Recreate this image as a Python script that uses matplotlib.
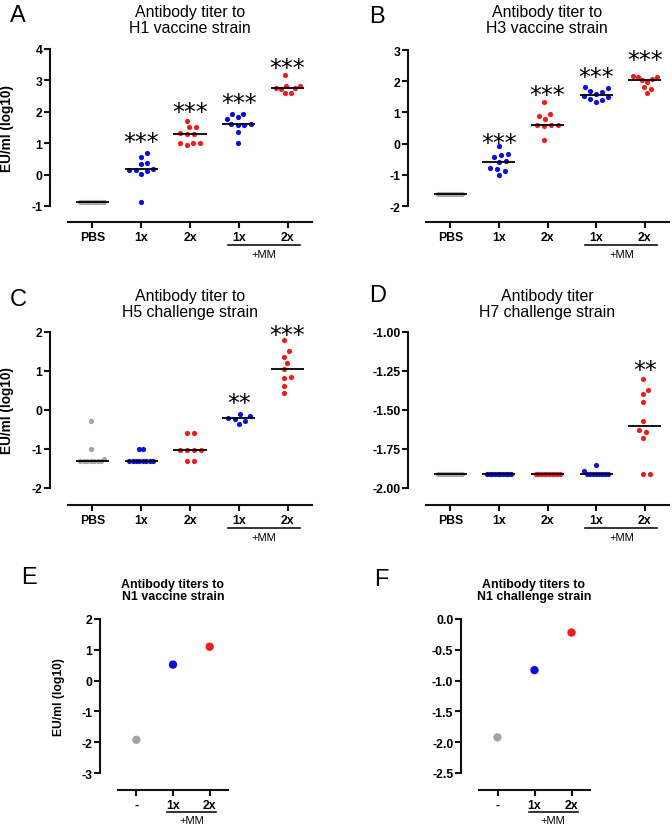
import numpy as np
import matplotlib
matplotlib.use("Agg")
import matplotlib.pyplot as plt
from matplotlib.lines import Line2D
from matplotlib.transforms import blended_transform_factory, offset_copy

plt.rcParams["font.family"] = ["Liberation Sans", "DejaVu Sans"]
plt.rcParams["axes.unicode_minus"] = False

W, H = 672, 828
GRAY = "#a3a3a3"
BLUE = "#0b0be0"
RED = "#ee1c1c"

# group labels / colours for the five-group panels
groups = ["PBS", "1x", "2x", "1x", "2x"]
group_colors = [GRAY, BLUE, RED, BLUE, RED]

# Panel A - H1 vaccine strain (EU/ml, log10)
h1_pbs = [-0.88, -0.88, -0.88, -0.88, -0.88, -0.88, -0.88, -0.88, -0.88, -0.88]
h1_1x = [0.57, 0.68, 0.38, 0.34, 0.10, 0.03, 0.14, 0.18, 0.16, -0.88]
h1_2x = [1.72, 1.50, 1.50, 1.31, 1.29, 1.29, 1.00, 0.94, 1.02, 1.00]
h1_1x_mm = [1.93, 1.93, 1.82, 1.77, 1.60, 1.59, 1.59, 1.61, 1.36, 1.02]
h1_2x_mm = [3.16, 2.82, 2.82, 2.75, 2.73, 2.75, 2.60, 2.60]
h1_stars = ["", "***", "***", "***", "***"]
h1_star_y = [None, 1.25, 2.22, 2.49, 3.61]
h1_yticks = [-1, 0, 1, 2, 3, 4]
h1_yticklabels = ["-1", "0", "1", "2", "3", "4"]

# Panel B - H3 vaccine strain
h3_pbs = [-1.60, -1.60, -1.60, -1.60, -1.60, -1.60, -1.60, -1.60, -1.60, -1.60]
h3_1x = [-0.09, -0.43, -0.35, -0.32, -0.56, -0.59, -0.81, -0.78, -0.88, -1.02]
h3_2x = [1.32, 0.96, 0.87, 0.79, 0.59, 0.59, 0.57, 0.61, 0.13]
h3_1x_mm = [1.81, 1.78, 1.69, 1.67, 1.59, 1.44, 1.35, 1.40, 1.51, 1.52]
h3_2x_mm = [2.17, 2.13, 2.13, 2.07, 1.99, 2.04, 1.81, 1.74, 1.62]
h3_stars = ["", "***", "***", "***", "***"]
h3_star_y = [None, 0.26, 1.78, 2.36, 2.89]
h3_yticks = [-2, -1, 0, 1, 2, 3]
h3_yticklabels = ["-2", "-1", "0", "1", "2", "3"]

# Panel C - H5 challenge strain
h5_pbs = [-0.29, -1.01, -1.25, -1.32, -1.32, -1.32, -1.32, -1.32, -1.32, -1.32]
h5_1x = [-1.01, -1.01, -1.32, -1.32, -1.32, -1.32, -1.32, -1.32, -1.32, -1.32]
h5_2x = [-0.60, -0.60, -1.03, -1.03, -1.03, -1.03, -1.32, -1.32]
h5_1x_mm = [-0.11, -0.15, -0.20, -0.22, -0.37, -0.28]
h5_2x_mm = [1.79, 1.50, 1.36, 1.20, 1.04, 0.85, 0.83, 0.62, 0.43]
h5_stars = ["", "", "", "**", "***"]
h5_star_y = [None, None, None, 0.36, 2.11]
h5_yticks = [-2, -1, 0, 1, 2]
h5_yticklabels = ["-2", "-1", "0", "1", "2"]

# Panel D - H7 challenge strain
h7_pbs = [-1.91, -1.91, -1.91, -1.91, -1.91, -1.91, -1.91, -1.91, -1.91, -1.91]
h7_1x = [-1.91, -1.91, -1.91, -1.91, -1.91, -1.91, -1.91, -1.91, -1.91, -1.91]
h7_2x = [-1.91, -1.91, -1.91, -1.91, -1.91, -1.91, -1.91, -1.91, -1.91, -1.91]
h7_1x_mm = [-1.85, -1.89, -1.91, -1.91, -1.91, -1.91, -1.91, -1.91, -1.91, -1.91]
h7_2x_mm = [-1.30, -1.37, -1.40, -1.45, -1.57, -1.64, -1.63, -1.68, -1.91, -1.91]
h7_stars = ["", "", "", "", "**"]
h7_star_y = [None, None, None, None, -1.20]
h7_yticks = [-2.0, -1.75, -1.5, -1.25, -1.0]
h7_yticklabels = ["-2.00", "-1.75", "-1.50", "-1.25", "-1.00"]

# Panels E/F - N1 titers (pooled)
n1_groups = ["-", "1x", "2x"]
n1_colors = [GRAY, BLUE, RED]
n1_vaccine = [-1.92, 0.52, 1.10]
n1_vaccine_yticks = [-3, -2, -1, 0, 1, 2]
n1_vaccine_yticklabels = ["-3", "-2", "-1", "0", "1", "2"]
n1_challenge = [-1.92, -0.83, -0.22]
n1_challenge_yticks = [-2.5, -2.0, -1.5, -1.0, -0.5, 0.0]
n1_challenge_yticklabels = ["-2.5", "-2.0", "-1.5", "-1.0", "-0.5", "0.0"]

fig = plt.figure(figsize=(W / 100, H / 100), dpi=100)
fig.patch.set_facecolor("white")


def make_axes(left, right, top, bottom, ylim, ncat):
    ax = fig.add_axes([left / W, 1 - bottom / H, (right - left) / W, (bottom - top) / H])
    ax.set_xlim(-0.5, ncat - 0.5)
    ax.set_ylim(*ylim)
    for s in ["top", "right"]:
        ax.spines[s].set_visible(False)
    ax.spines["left"].set_position(("outward", 13))
    for s in ["left", "bottom"]:
        ax.spines[s].set_linewidth(1.5)
        ax.spines[s].set_color("#111111")
    ax.tick_params(axis="both", length=4, width=1.5, color="#111111",
                   labelsize=8.8, pad=1.5)
    ax.tick_params(axis="x", pad=2.5)
    ax.patch.set_alpha(0)
    return ax


def style_ticks(ax, labels, yticks, yticklabels):
    ax.set_xticks(range(len(labels)))
    ax.set_xticklabels(labels, fontweight="bold")
    ax.set_yticks(yticks)
    ax.set_yticklabels(yticklabels, fontweight="bold")
    ax.spines["left"].set_bounds(min(yticks), max(yticks))


def swarm_offsets(ax, x0, vals, d=7.0, maxw=12.0):
    pts = ax.transData.transform(np.column_stack([np.full(len(vals), x0), vals]))
    ys = pts[:, 1]
    offs = np.zeros(len(vals))
    placed = []
    for i in np.argsort(ys, kind="stable"):
        y = ys[i]
        cands = [0.0]
        for px, py in placed:
            dy = y - py
            if abs(dy) < d:
                dx = np.sqrt(d * d - dy * dy)
                cands += [px + dx, px - dx]
        cands.sort(key=lambda c: (round(abs(c), 6), c < 0))
        for c in cands:
            if all((c - px) ** 2 + (y - py) ** 2 >= d * d - 1e-6 for px, py in placed):
                offs[i] = c
                break
        placed.append((offs[i], y))
    offs -= (offs.max() + offs.min()) / 2
    ext = np.abs(offs).max()
    if ext > maxw:
        offs *= maxw / ext
    # pixels -> data units along x
    ppu = ax.transData.transform((1, 0))[0] - ax.transData.transform((0, 0))[0]
    return x0 + offs / ppu


def add_mm(ax, x0, x1, xc, dy_line, dy_text):
    trans = blended_transform_factory(ax.transData, ax.transAxes)
    ax.add_line(Line2D([x0, x1], [0, 0], color="#111111", lw=1.2, clip_on=False,
                       transform=offset_copy(trans, fig=fig, y=-dy_line, units="dots")))
    ax.text(xc, 0, "+MM", ha="center", va="center", fontsize=8, clip_on=False,
            transform=offset_copy(trans, fig=fig, y=-dy_text, units="dots"))


def dot_panel(ax, data, stars, star_y, yt):
    for i, vals in enumerate(data):
        xs = swarm_offsets(ax, i, vals)
        ax.scatter(xs, vals, s=14, color=group_colors[i], linewidths=0, zorder=3,
                   clip_on=False)
        med = np.median(vals)
        ax.plot([i - 0.34, i + 0.34], [med, med], color="black", lw=1.3, zorder=4,
                solid_capstyle="butt")
        if stars[i]:
            ax.annotate(stars[i], xy=(i, star_y[i]), xytext=(0, -14),
                        textcoords="offset pixels", ha="center", va="baseline",
                        fontsize=17, family="DejaVu Sans", annotation_clip=False)
    style_ticks(ax, groups, *yt)
    add_mm(ax, 2.77, 4.26, 3.52, 23, 32)


panels = [
    ((68, 312, 50, 223), (-1.51, 4.0), [h1_pbs, h1_1x, h1_2x, h1_1x_mm, h1_2x_mm],
     h1_stars, h1_star_y, (h1_yticks, h1_yticklabels)),
    ((426, 669, 51, 223), (-2.51, 3.0), [h3_pbs, h3_1x, h3_2x, h3_1x_mm, h3_2x_mm],
     h3_stars, h3_star_y, (h3_yticks, h3_yticklabels)),
    ((68, 312, 333, 506), (-2.44, 2.0), [h5_pbs, h5_1x, h5_2x, h5_1x_mm, h5_2x_mm],
     h5_stars, h5_star_y, (h5_yticks, h5_yticklabels)),
    ((426, 669, 333, 506), (-2.109, -1.0), [h7_pbs, h7_1x, h7_2x, h7_1x_mm, h7_2x_mm],
     h7_stars, h7_star_y, (h7_yticks, h7_yticklabels)),
]

axes = []
for box, ylim, data, stars, star_y, yt in panels:
    ax = make_axes(*box, ylim, 5)
    dot_panel(ax, data, stars, star_y, yt)
    axes.append(ax)

ax_a, ax_b, ax_c, ax_d = axes
for ax in (ax_a, ax_c):
    ax.set_ylabel("EU/ml (log10)", fontweight="bold", fontsize=9.8)
# y-label anchor is its right edge once rotated
ax_a.yaxis.set_label_coords((14 - 68) / 244, (223 - 128.5) / 173)
ax_c.yaxis.set_label_coords((14 - 68) / 244, (506 - 411) / 173)

# Panels E and F
ax_e = make_axes(118, 228, 620, 791, (-3.55, 2.0), 3)
ax_f = make_axes(479, 590, 620, 791, (-2.776, 0.0), 3)
for ax, vals, yt, ytl in [(ax_e, n1_vaccine, n1_vaccine_yticks, n1_vaccine_yticklabels),
                          (ax_f, n1_challenge, n1_challenge_yticks, n1_challenge_yticklabels)]:
    ax.scatter(range(len(vals)), vals, s=36, color=n1_colors, linewidths=0, zorder=3)
    style_ticks(ax, n1_groups, yt, ytl)
    add_mm(ax, 0.84, 2.17, 1.5, 22, 30)
ax_e.set_ylabel("EU/ml (log10)", fontweight="bold", fontsize=8.7)
ax_e.yaxis.set_label_coords((65 - 118) / 110, (791 - 697) / 171)

# titles
titles = [
    ("Antibody titer to\nH1 vaccine strain", 190, 20.5, "normal", 11.4),
    ("Antibody titer to\nH3 vaccine strain", 547, 20.5, "normal", 11.4),
    ("Antibody titer to\nH5 challenge strain", 190, 304.5, "normal", 11.4),
    ("Antibody titer\nH7 challenge strain", 547, 304.5, "normal", 11.4),
    ("Antibody titers to\nN1 vaccine strain", 173, 591, "bold", 8.9),
    ("Antibody titers to\nN1 challenge strain", 534, 591, "bold", 8.9),
]
for txt, x, y, wt, fs in titles:
    fig.text(x / W, 1 - y / H, txt, ha="center", va="center", fontsize=fs,
             fontweight=wt, linespacing=1.05)

letters = [("A", 18, 16.5), ("B", 377, 17), ("C", 18, 300), ("D", 378, 296),
           ("E", 29, 578), ("F", 381, 580)]
for lt, x, y in letters:
    fig.text(x / W, 1 - y / H, lt, ha="center", va="center", fontsize=17)

fig.savefig("out.png", dpi=100, facecolor="white")
